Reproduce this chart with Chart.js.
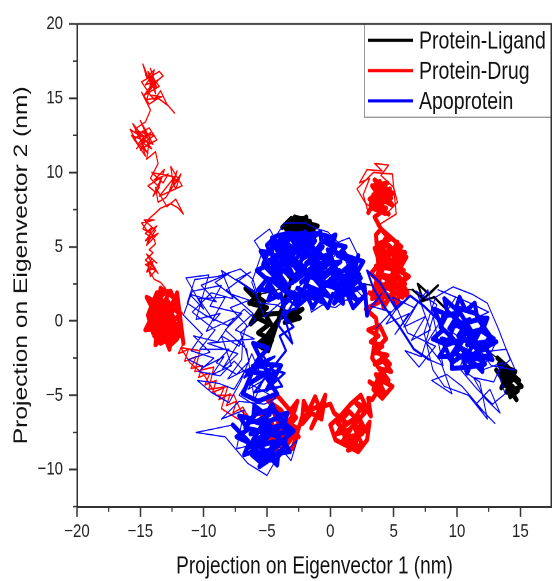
<!DOCTYPE html>
<html>
<head>
<meta charset="utf-8">
<script src="https://cdn.jsdelivr.net/npm/chart.js@4.4.1/dist/chart.umd.min.js"></script>
<style>
  html, body { margin: 0; padding: 0; background: #fff; }
  /* the source figure is stretched vertically: draw at 552x461 and show at 552x581 */
  #pca { display: block; width: 552px; height: 581px; }
</style>
</head>
<body>
<canvas id="pca" width="552" height="461" style="width:552px;height:581px"></canvas>
<script>
// ---- Protein-Drug (red) trajectory ----
var drugTop = [[-14.2,16.0],[-14.8,17.3],[-14.5,16.4],[-13.9,16.9],[-14.3,15.6],[-13.6,16.2],[-14.6,15.9],[-14.0,16.6],[-13.8,15.3],[-14.4,16.8],[-13.5,15.8],[-14.7,15.2],[-14.1,15.9],[-13.2,16.5],[-13.5,16.8],[-14.9,16.1],[-14.2,15.2],[-13.3,15.1],[-14.5,14.9],[-14.0,16.3],[-14.6,16.6],[-13.7,15.7],[-14.2,17.0],[-13.8,16.0],[-14.4,15.4],[-13.9,14.9],[-13.4,15.5],[-12.9,14.6],[-12.3,14.0],[-12.8,14.5],[-13.6,15.0],[-14.3,14.6],[-14.9,15.4],[-14.2,14.2]];
var drugC2 = [[-14.6,13.4],[-15.3,13.0],[-14.9,12.4],[-15.8,12.9],[-15.2,11.9],[-14.5,12.6],[-15.0,11.5],[-14.2,12.0],[-14.8,12.8],[-15.5,12.2],[-14.4,11.3],[-14.9,11.9],[-13.9,12.5],[-15.4,12.8],[-14.4,12.3],[-15.0,13.5],[-14.0,11.9],[-15.7,12.5],[-14.6,11.1],[-15.1,12.6],[-14.3,13.0],[-13.7,12.2],[-14.7,11.7],[-15.6,13.3],[-14.1,11.6],[-15.0,12.1],[-14.6,12.3],[-15.3,11.6],[-14.2,12.7],[-14.5,10.9],[-13.8,11.4]];
var drugC3 = [[-13.6,10.6],[-14.2,9.6],[-13.5,9.0],[-14.0,8.4],[-13.3,9.7],[-14.4,9.1],[-13.7,8.6],[-13.1,10.2],[-13.9,9.5],[-12.8,9.9],[-13.2,9.3],[-14.1,10.0],[-12.3,9.7],[-13.5,8.4],[-11.7,9.1],[-12.6,10.4],[-12.4,9.2],[-12.1,10.1],[-12.7,8.8],[-11.9,9.6],[-12.5,9.4],[-12.2,8.9],[-11.8,9.9],[-13.0,8.3],[-13.6,8.0],[-13.8,9.0],[-12.9,7.7],[-12.2,8.2],[-11.6,7.2],[-12.0,7.6],[-12.6,7.9],[-13.4,7.6],[-13.9,7.2]];
var drugC4 = [[-14.3,6.9],[-14.8,6.2],[-14.0,5.8],[-14.6,5.4],[-13.7,6.4],[-14.4,6.0],[-14.9,6.6],[-13.9,6.8],[-14.7,6.8],[-13.8,6.1],[-14.4,5.3],[-14.2,5.6],[-13.6,5.9],[-14.5,5.1],[-14.1,6.3],[-14.6,5.9],[-13.9,5.5],[-13.8,5.2],[-14.3,4.8]];
var drugC5 = [[-14.0,4.6],[-14.6,4.1],[-13.9,3.6],[-14.5,3.3],[-14.1,4.2],[-13.7,3.9],[-14.5,4.5],[-13.6,3.2],[-14.3,4.0],[-14.4,3.7],[-14.2,3.0],[-13.8,3.4],[-14.6,3.8],[-14.0,4.0],[-14.3,3.4],[-13.9,2.8],[-13.4,2.6],[-13.0,2.2],[-13.5,1.9],[-12.8,1.6]];
var drugBlob = [[-13.2,1.8],[-13.9,1.2],[-12.7,1.0],[-14.1,0.6],[-13.0,0.2],[-14.3,-0.1],[-12.5,0.6],[-13.6,1.5],[-12.9,-0.4],[-13.8,-0.6],[-12.3,0.1],[-13.4,0.9],[-14.0,-0.3],[-12.8,1.3],[-13.5,-0.9],[-12.4,-0.2],[-13.1,0.7],[-14.2,0.3],[-12.6,-0.7],[-13.3,-1.3],[-12.2,-0.5],[-13.7,0.1],[-12.9,1.6],[-13.9,-1.0],[-12.7,-1.1],[-13.2,-0.2],[-14.1,1.0],[-12.4,1.1],[-13.6,-0.4],[-12.8,0.4],[-13.4,-0.8],[-12.1,-0.9],[-13.0,1.1],[-13.8,0.4],[-12.5,-1.4],[-13.3,0.3],[-12.0,-0.3],[-12.6,-1.6],[-12.1,-1.2]];
var drugBlobB = [[-12.3,-1.0],[-13.4,-1.5],[-14.0,-0.8],[-14.4,0.4],[-13.7,1.9],[-12.6,2.0],[-12.0,0.7],[-11.9,-0.6],[-12.8,-1.3],[-13.9,-0.2],[-13.3,1.4],[-12.4,0.3],[-13.6,0.6],[-12.7,-0.2],[-13.1,-0.9],[-14.2,1.3],[-12.9,0.8],[-13.5,0.2],[-12.2,1.5]];
var drugBlobC = [[-13.4,2.2],[-13.6,1.2],[-14.5,1.6],[-13.9,0.6],[-14.6,-0.6],[-13.7,-0.5],[-13.8,-1.6],[-13.1,-1.0],[-12.7,-1.9],[-12.5,-0.9],[-11.9,-1.0],[-12.5,-0.1],[-11.8,0.5],[-12.6,0.9],[-12.1,1.9]];
var drugDown = [[-11.6,-1.5],[-12.0,-2.2],[-11.2,-1.9],[-11.5,-2.7],[-10.6,-2.4],[-11.0,-3.2],[-10.1,-3.0],[-10.4,-3.8],[-9.5,-3.5],[-9.9,-4.3],[-9.0,-4.0],[-9.3,-4.8],[-8.4,-4.5],[-8.8,-5.3],[-7.9,-4.9],[-8.2,-5.7],[-7.4,-5.4],[-7.7,-6.2],[-6.9,-5.8],[-6.5,-6.4]];
var drugDownB = [[-7.3,-6.6],[-8.6,-5.9],[-8.1,-4.4],[-9.6,-4.6],[-9.2,-3.1],[-10.7,-3.4],[-10.3,-2.0],[-11.8,-1.8],[-11.1,-2.8],[-10.0,-3.6],[-9.0,-5.0],[-7.6,-5.0],[-7.1,-6.0],[-6.2,-6.7]];
var drugBL = [[-5.6,-6.2],[-4.6,-6.9],[-5.3,-7.5],[-4.1,-7.0],[-4.8,-8.1],[-3.7,-7.6],[-4.4,-6.3],[-3.3,-6.8],[-4.0,-8.4],[-3.1,-7.9],[-4.7,-7.2],[-3.6,-8.6],[-2.9,-7.3],[-3.9,-6.0],[-4.9,-5.4],[-4.2,-5.0],[-3.4,-5.8],[-2.7,-6.5],[-3.2,-7.0],[-2.5,-7.8],[-3.5,-7.2],[-2.8,-6.0]];
var drugBLB = [[-2.6,-5.4],[-3.5,-6.4],[-4.5,-5.8],[-5.4,-6.8],[-4.3,-7.6],[-3.3,-8.2],[-2.6,-7.2],[-3.8,-6.8],[-4.9,-7.8],[-4.1,-8.8],[-3.0,-8.6],[-2.2,-6.4]];
var drugMid = [[-2.1,-5.4],[-1.6,-6.3],[-2.2,-6.9],[-1.2,-5.1],[-0.8,-6.0],[-1.5,-7.2],[-0.4,-5.0],[-0.7,-6.6],[-1.9,-6.0],[0.0,-5.6]];
var drugLow = [[0.3,-6.2],[1.2,-6.8],[0.5,-7.6],[1.6,-7.3],[0.9,-8.2],[2.1,-7.8],[1.4,-8.7],[2.5,-8.3],[1.8,-7.0],[2.8,-7.4],[2.2,-6.4],[1.0,-7.1],[1.7,-8.0],[0.6,-6.9],[1.5,-6.1],[2.4,-6.9],[1.9,-8.6],[1.1,-7.7],[2.7,-6.2],[2.0,-5.5],[2.9,-5.9],[2.4,-5.0]];
var drugLowB = [[1.6,-5.6],[0.8,-6.4],[0.0,-7.0],[0.4,-8.0],[1.3,-8.4],[2.2,-8.8],[2.9,-8.0],[3.1,-6.8],[2.5,-7.6],[1.5,-7.8],[0.7,-7.3],[1.9,-6.6],[2.6,-5.6],[3.2,-6.4],[3.0,-5.2]];
var drugLoopUp = [[3.3,-5.3],[3.9,-4.5],[3.1,-4.1],[4.3,-4.9],[3.6,-3.6],[4.6,-4.0],[3.9,-3.2],[4.8,-3.4],[4.2,-2.7],[3.5,-2.9],[4.5,-2.3],[3.4,-2.1],[4.1,-1.7],[3.2,-1.4],[3.8,-1.0],[3.0,-0.6]];
var drugLoopUpB = [[3.9,-0.3],[4.4,-1.2],[3.6,-1.9],[4.7,-2.9],[3.8,-3.9],[4.9,-4.4],[4.1,-5.2],[3.4,-4.6],[4.0,-3.4],[3.3,-2.5],[3.7,-0.4]];
var drugUpper = [[3.6,0.2],[2.8,0.8],[3.9,1.3],[3.1,1.9],[4.4,1.6],[3.7,2.6],[5.0,2.1],[4.2,3.1],[5.4,2.8],[4.5,3.9],[5.8,3.4],[4.0,4.3],[5.2,4.6],[4.6,5.1],[5.7,4.2],[4.3,2.4],[5.9,2.5],[4.9,3.5],[3.6,3.7],[5.5,3.9],[4.1,2.0],[5.1,1.4],[4.6,2.9],[6.1,1.9],[5.3,3.1],[4.4,4.6],[3.8,5.2],[4.7,5.5],[4.0,6.2]];
var drugUpperB = [[5.6,5.0],[4.9,4.1],[6.0,3.0],[5.2,2.3],[4.3,1.1],[3.5,2.2],[4.6,2.2],[5.7,1.6],[5.0,2.8],[3.9,3.0],[4.8,4.8],[5.9,4.6],[5.3,3.6],[4.2,3.6],[3.7,4.7],[4.4,5.6]];
var drugUpperC = [[3.3,1.5],[4.0,1.9],[4.2,0.9],[4.7,1.6],[5.3,1.0],[5.4,1.9],[6.1,1.7],[5.5,2.5],[6.2,3.0],[5.4,3.4],[6.0,4.3],[5.2,4.2],[5.3,5.3],[4.8,4.5],[4.3,5.4],[4.1,4.5],[3.5,4.9],[3.9,3.9],[3.2,3.2],[3.9,2.6],[3.6,5.8],[4.0,6.2]];
var drugTopR = [[3.5,7.0],[4.4,7.6],[3.2,7.9],[4.8,8.3],[3.6,8.9],[4.5,9.3],[3.3,9.1],[4.1,8.1],[4.7,8.9],[3.8,8.0],[3.4,8.5],[4.9,7.8],[4.2,8.7],[3.9,9.4],[4.4,8.2],[3.7,7.5]];
var drugTopRB = [[4.6,7.2],[3.3,7.6],[4.0,7.9],[4.9,8.6],[3.5,9.5],[4.3,9.0],[3.1,8.2],[4.6,8.0],[3.9,8.7]];
var drugTopHalo = [[3.0,7.3],[2.6,8.5],[3.1,9.6],[2.3,9.3],[2.9,10.2],[4.1,10.1],[3.5,10.6],[4.6,10.5],[4.0,9.8],[5.0,9.0],[5.3,8.0],[4.3,7.1],[2.8,7.9],[2.1,8.9],[3.4,10.0],[4.9,9.9],[5.2,7.2],[3.7,6.4]];

// ---- Apoprotein (blue) trajectory ----
var apoMain = [[-4.5,5.0],[-3.2,5.6],[-4.0,4.4],[-2.6,5.2],[-3.5,4.0],[-1.9,5.7],[-2.8,4.6],[-1.2,5.4],[-2.2,4.2],[-0.6,5.0],[-1.6,4.0],[0.2,4.6],[-0.9,3.7],[0.8,4.0],[-0.3,3.3],[1.0,3.0],[-0.6,2.5],[0.5,2.2],[-1.3,2.9],[-0.2,1.8],[-1.9,2.4],[-0.9,1.6],[-2.6,2.2],[-1.6,1.5],[-3.3,2.0],[-2.4,1.4],[-4.0,2.3],[-3.0,1.6],[-4.7,2.8],[-3.7,2.6],[-4.9,3.6],[-3.9,3.2],[-4.6,4.2],[-3.3,3.6],[-4.2,5.3],[-2.9,3.0],[-2.0,3.6],[-3.0,4.2],[-1.6,3.0],[-2.3,2.6],[-1.0,3.5],[-1.8,4.6],[-0.4,4.2],[-1.3,4.9],[0.4,3.6],[-0.5,2.9],[-2.5,3.3],[-3.6,4.6],[-2.1,5.0],[-2.9,5.7],[-1.5,5.8],[-2.4,5.9],[-3.8,5.6],[-4.9,4.7],[-5.3,3.8],[-4.4,3.0],[-5.0,2.3],[-4.1,1.6]];
var apoMainB = [[-5.1,2.9],[-3.4,2.4],[-4.8,4.1],[-3.1,3.0],[-4.3,4.9],[-2.7,3.9],[-3.7,5.4],[-2.2,4.4],[-3.0,5.9],[-1.7,5.1],[-2.5,5.6],[-0.9,4.5],[-1.9,3.9],[-0.1,3.9],[-1.1,3.1],[0.7,3.4],[-0.4,2.4],[1.3,2.6],[0.1,1.6],[-1.4,2.1],[-0.7,1.3],[-2.2,1.9],[-1.3,3.7],[-2.8,2.7],[-2.0,4.9],[-3.5,3.4],[-2.4,5.4],[-4.0,3.9],[-3.2,4.8],[-4.6,3.3],[-3.8,2.1],[-2.6,2.9],[-1.5,4.3],[-0.6,5.4],[0.4,4.9],[-0.2,5.7],[-1.1,5.9],[-2.0,5.8],[-3.4,5.9],[-4.3,5.7],[-5.0,5.1],[-4.7,4.5],[-3.6,4.2],[-2.1,3.2],[-0.8,2.7],[0.9,2.0],[1.4,3.3]];
var apoMainC = [[1.8,4.0],[0.6,4.4],[1.2,5.0],[0.2,5.2],[0.4,5.8],[-0.7,5.3],[-0.8,6.0],[-1.7,5.4],[-2.0,6.0],[-2.9,5.3],[-3.3,5.9],[-3.9,5.1],[-4.6,5.6],[-4.6,4.6],[-5.5,4.7],[-4.9,3.8],[-5.8,3.4],[-5.0,2.8],[-5.7,2.1],[-4.6,2.1],[-4.9,1.4],[-3.9,1.8],[-3.7,1.1],[-2.9,1.7],[-2.6,1.0],[-1.8,1.6],[-1.4,0.9],[-0.8,1.7],[-0.2,0.9],[0.2,1.8],[1.0,1.2],[0.9,2.3],[1.8,2.2],[1.1,3.0],[1.9,3.3]];
var apoMainHalo = [[2.2,4.4],[1.5,5.6],[0.6,5.3],[-0.2,6.0],[-1.0,6.2],[-2.0,6.6],[-3.6,6.6],[-4.4,5.6],[-4.8,6.2],[-6.0,5.4],[-5.4,4.6],[-6.2,2.6],[-5.6,1.2],[-4.3,1.1],[-3.4,0.7],[-2.6,0.8],[-1.8,1.9],[-1.5,0.6],[-0.6,1.1],[0.4,0.9],[1.2,1.4],[2.6,1.6],[1.6,2.5],[2.4,3.2],[1.4,3.6],[0.9,4.8],[-5.2,0.3],[-5.9,1.8]];
var apoLeftB = [[-6.8,2.4],[-8.6,3.4],[-7.7,1.5],[-9.4,1.9],[-10.9,0.6],[-9.1,-0.6],[-10.3,-1.9],[-8.0,-1.9],[-9.0,-2.8],[-7.4,-3.6],[-6.4,-2.7],[-7.1,-0.8],[-5.9,0.1],[-6.8,0.8],[-8.1,-0.3],[-9.9,0.4],[-11.3,1.2],[-10.7,2.8],[-8.9,3.0],[-7.1,3.5],[-6.1,2.8],[-5.8,1.9]];
var apoLeft = [[-7.4,2.8],[-6.3,3.3],[-8.2,2.1],[-7.0,1.2],[-9.1,2.6],[-8.0,3.2],[-10.2,2.4],[-9.0,1.3],[-11.1,1.8],[-10.0,0.8],[-11.4,2.9],[-9.6,3.1],[-10.6,0.1],[-8.7,0.5],[-9.2,0.0],[-10.4,1.5],[-8.3,1.6],[-9.8,-0.7],[-7.6,0.2],[-8.9,-1.4],[-10.8,-1.0],[-9.5,-2.1],[-11.2,-2.6],[-10.0,-3.1],[-8.4,-2.4],[-9.3,-3.6],[-7.8,-3.0],[-8.6,-1.0],[-7.2,-1.7],[-6.6,-0.3],[-7.9,0.9],[-6.4,1.4],[-7.8,1.8],[-6.1,0.5],[-7.5,-0.6],[-6.0,-1.2],[-9.7,-1.5],[-7.3,-2.2],[-8.5,-3.2],[-6.9,-1.0],[-7.0,-2.6],[-8.1,-3.9],[-6.7,-3.3],[-7.6,-4.6],[-8.8,-4.2],[-10.5,-4.0],[-9.4,-4.8],[-8.0,-5.5],[-7.1,-4.1],[-6.2,-2.2],[-5.6,-3.4],[-6.5,-4.6],[-5.3,-4.0],[-6.0,-5.3]];
var apoLeftC = [[-6.6,-1.9],[-8.3,-0.6],[-7.0,0.5],[-9.5,1.0],[-8.6,2.4],[-10.9,2.0],[-11.6,0.4],[-10.1,-0.9],[-11.0,-2.0],[-9.2,-2.5],[-10.4,-3.4],[-8.7,-3.7],[-7.6,-2.7],[-6.3,-3.8],[-7.2,-5.0]];
var apoBottom = [[-4.8,-6.3],[-5.9,-6.8],[-4.4,-7.2],[-6.3,-7.6],[-3.8,-7.0],[-5.2,-7.8],[-6.4,-8.5],[-4.6,-8.2],[-3.6,-8.0],[-5.0,-9.0],[-3.9,-8.9],[-5.8,-9.2],[-4.3,-9.4],[-6.1,-8.0],[-5.3,-6.9],[-4.1,-6.5],[-3.5,-7.5],[-4.7,-7.6],[-5.6,-8.4],[-4.9,-6.0],[-6.0,-6.3],[-6.7,-7.2]];
var apoBottomB = [[-5.6,-7.4],[-4.0,-7.8],[-4.8,-8.7],[-6.2,-9.0],[-5.4,-9.6],[-3.7,-8.6],[-3.3,-7.2],[-4.3,-6.1],[-5.7,-6.1],[-6.5,-6.8],[-5.0,-6.7],[-4.5,-7.4],[-5.9,-8.0],[-4.9,-9.4]];
var apoBottomC = [[-5.6,-9.8],[-5.0,-9.0],[-4.2,-9.7],[-4.1,-8.9],[-3.2,-8.8],[-3.7,-8.0],[-2.9,-7.4],[-3.6,-6.9],[-3.4,-6.2],[-4.2,-6.4],[-4.6,-5.6],[-5.1,-6.3],[-6.0,-5.7],[-6.1,-6.6],[-7.2,-6.4],[-6.5,-7.3],[-7.4,-7.8],[-6.4,-8.2],[-6.8,-9.0],[-5.8,-8.7]];
var apoBottomOut = [[-7.7,-7.0],[-10.6,-7.5],[-8.3,-7.8],[-6.5,-9.6],[-5.0,-10.4],[-4.4,-9.5],[-2.6,-8.0],[-3.1,-9.4],[-4.5,-8.0],[-7.4,-8.6],[-6.8,-6.0],[-8.6,-6.6],[-7.2,-5.4],[-5.2,-5.6],[-4.3,-5.2]];
var apoUpB = [[-6.4,-4.2],[-5.2,-3.6],[-4.2,-4.9],[-5.7,-5.4],[-6.9,-4.9],[-5.8,-2.7],[-4.9,-1.8],[-6.1,-1.5],[-4.6,-4.1],[-3.9,-3.0],[-5.3,-2.9],[-6.6,-3.4],[-4.4,-3.6]];
var apoUp = [[-5.0,-4.6],[-3.6,-3.5],[-6.2,-3.0],[-4.4,-2.4],[-6.8,-3.8],[-5.4,-2.2],[-3.8,-4.4],[-6.0,-4.8],[-4.7,-3.3],[-3.5,-2.0],[-4.0,-1.0],[-2.9,-0.4],[-3.8,0.5],[-2.6,0.9],[-3.4,1.5],[-4.1,-0.3],[-3.0,-1.5],[-3.6,0.2],[-2.7,1.6]];
var apoBand = [[-0.5,2.3],[1.6,3.8],[0.3,1.2],[2.4,2.9],[1.1,4.6],[2.8,1.8],[1.8,0.9],[-0.2,4.8],[2.6,4.0],[1.3,2.1],[0.6,3.3],[2.1,1.4],[0.0,2.8],[1.9,3.0],[0.9,1.7],[2.7,2.4]];
var apoBridge = [[2.9,0.4],[4.1,1.9],[3.2,1.0],[4.8,0.6],[3.6,-0.5],[5.6,1.3],[4.4,-0.2],[6.2,0.5],[5.1,-0.9],[6.9,1.2],[5.8,-0.4],[7.5,0.3],[6.4,-1.3],[7.9,-0.6],[6.8,2.0],[8.4,1.1],[7.2,-2.4],[5.9,-2.0],[7.0,-3.1],[8.3,-1.7],[6.1,-0.8],[4.9,1.6],[6.6,0.9],[7.7,2.1],[8.9,-3.0]];
var apoBridgeB = [[7.8,-2.6],[6.6,-1.9],[5.4,-0.3],[4.3,0.9],[3.4,2.2],[2.9,3.4],[3.9,2.6],[5.2,0.8],[6.3,1.7],[7.4,1.0],[8.6,0.0]];
var apoRight = [[8.9,0.3],[10.2,0.6],[9.4,-0.5],[11.0,0.1],[10.1,-1.0],[11.8,-0.6],[10.8,-1.6],[12.3,-1.4],[11.3,-2.3],[12.5,-2.4],[10.6,-2.6],[11.6,-3.0],[9.9,-2.2],[10.5,-1.2],[9.2,-1.6],[9.8,-0.2],[11.3,-0.9],[10.0,0.9],[11.5,0.5],[12.1,-0.2],[11.0,-2.0],[9.6,-2.8],[8.8,-1.2],[9.9,-1.5]];
var apoRightB = [[11.2,-1.1],[12.0,-1.9],[12.6,-1.0],[11.7,0.1],[10.4,-0.2],[9.3,0.6],[8.7,-0.4],[9.6,-1.1],[10.9,-2.4],[11.9,-2.6],[10.3,-1.8],[9.4,-2.5],[10.8,-0.7],[12.2,-2.9],[11.0,-3.1]];
var apoRightC = [[9.6,-3.2],[9.6,-2.4],[8.6,-2.4],[9.2,-1.6],[8.1,-1.2],[8.9,-0.6],[8.2,0.8],[9.3,0.4],[9.0,1.5],[9.9,0.8],[10.2,1.6],[10.7,0.7],[11.4,1.2],[11.6,0.2],[12.4,0.2],[12.0,-0.7],[12.9,-1.2],[12.2,-1.7],[12.8,-2.6],[11.9,-2.4],[12.0,-3.4],[11.2,-2.7],[10.8,-3.5],[10.5,-2.6]];
var apoRightOut = [[13.1,-1.4],[12.0,-3.3],[13.6,-2.8],[12.9,-4.1],[11.3,-3.8],[12.2,-5.2],[13.4,-6.2],[12.6,-4.6],[11.5,-5.6],[13.0,-6.9],[12.1,-6.1],[10.4,-4.4],[9.2,-3.6],[8.0,-4.0],[9.6,-4.9],[8.7,-2.7],[7.6,-1.5],[9.9,1.6],[8.5,2.1],[10.8,1.3],[12.5,0.6],[9.4,-0.6],[11.7,-2.1],[13.9,-1.9],[14.6,-3.3],[12.7,-3.0],[11.1,-1.1]];
var apoRightOutB = [[10.2,-3.2],[11.6,-4.6],[12.8,-5.6],[13.8,-4.9],[13.2,-3.4],[14.2,-2.6],[13.3,-0.6],[12.4,1.2],[11.2,1.8],[9.7,2.3],[8.3,1.6],[7.4,-0.8],[8.1,-3.3],[9.0,-4.4],[10.9,-5.0],[12.4,-6.6],[11.8,-4.1],[10.6,-3.4]];

// ---- Protein-Ligand (black) trajectory ----
var ligTop = [[-2.4,6.4],[-3.2,6.0],[-1.6,6.7],[-2.8,7.0],[-1.3,6.0],[-3.4,6.5],[-2.0,6.1],[-2.6,6.8],[-1.8,6.3],[-3.5,6.2],[-2.1,6.6],[-1.2,6.3],[-2.9,6.6],[-2.5,6.0],[-1.9,7.0],[-3.0,6.3],[-2.2,6.9],[-3.8,6.3],[-3.1,6.9],[-1.0,6.4],[-1.5,6.4]];
var ligPath1 = [[-2.5,4.5],[-3.8,3.4],[-2.9,2.5],[-4.5,2.0]];
var ligLeft = [[-5.6,1.8],[-6.4,1.2],[-5.0,0.9],[-6.0,0.3],[-4.8,-0.2],[-5.7,-0.8],[-4.6,-1.3],[-5.4,-1.8],[-4.4,-0.6],[-5.9,1.5],[-6.7,2.2],[-5.2,1.3],[-6.3,-0.2],[-5.5,0.4],[-4.3,0.5],[-3.2,0.6],[-2.4,0.2],[-3.6,-0.1],[-2.2,0.8],[-4.0,0.2],[-5.1,-1.1],[-5.8,-1.6],[-4.9,-2.0]];
var ligPath2 = [[-3.0,3.0],[-0.5,3.6],[2.0,2.6],[4.5,2.2]];
var ligMid = [[6.5,2.1],[7.3,1.5],[6.9,2.5],[7.8,1.8],[8.5,2.4],[7.1,1.3],[8.2,1.6]];
var ligPath3 = [[9.5,0.5],[11.0,-1.2],[12.4,-2.0]];
var ligFar = [[13.2,-2.5],[14.0,-3.1],[13.4,-3.6],[14.5,-3.9],[13.7,-4.3],[14.8,-4.7],[14.2,-5.1],[13.6,-3.0],[14.6,-3.4],[13.9,-4.8],[15.1,-4.4],[14.3,-3.7],[13.5,-4.5],[14.1,-3.4],[14.9,-4.0],[13.3,-2.9],[14.5,-5.0],[13.1,-3.3],[14.7,-5.3],[13.8,-4.0],[14.4,-4.4]];

// axis ticks
var xTicksStep = 5;
var yTicksStep = 5;

// line weights: crowded parts of a trajectory look solid in the figure
var weight = { dense: 4.0, mid: 2.0, light: 1.2, thin: 1.0 };

function build(parts) {
  var pts = [], widths = [];
  parts.forEach(function(p) {
    p[0].forEach(function(v) {
      pts.push({x: v[0], y: v[1]});
      widths.push(weight[p[1]]);
    });
  });
  return {pts: pts, widths: widths};
}

var ligand = build([[ligTop, 'dense'], [ligPath1, 'thin'], [ligLeft, 'dense'], [ligPath2, 'thin'], [ligMid, 'mid'], [ligPath3, 'thin'], [ligFar, 'dense']]);
var drug = build([[drugTop, 'light'], [drugC2, 'light'], [drugC3, 'light'], [drugC4, 'light'], [drugC5, 'light'], [drugBlob, 'dense'], [drugBlobB, 'dense'], [drugBlobC, 'dense'], [drugDown, 'light'], [drugDownB, 'light'], [drugBL, 'dense'], [drugBLB, 'dense'], [drugMid, 'dense'], [drugLow, 'dense'], [drugLowB, 'dense'], [drugLoopUp, 'dense'], [drugLoopUpB, 'dense'], [drugUpper, 'dense'], [drugUpperB, 'dense'], [drugUpperC, 'dense'], [drugTopR, 'dense'], [drugTopRB, 'dense'], [drugTopHalo, 'light']]);
var apo = build([[apoMain, 'dense'], [apoMainB, 'dense'], [apoMainC, 'dense'], [apoMainHalo, 'thin'], [apoLeftB, 'thin'], [apoLeft, 'thin'], [apoLeftC, 'thin'], [apoBottom, 'dense'], [apoBottomB, 'dense'], [apoBottomC, 'dense'], [apoBottomOut, 'thin'], [apoUpB, 'dense'], [apoUp, 'mid'], [apoBand, 'dense'], [apoBridge, 'thin'], [apoBridgeB, 'mid'], [apoRight, 'dense'], [apoRightB, 'dense'], [apoRightC, 'dense'], [apoRightOut, 'thin'], [apoRightOutB, 'thin']]);

function seg(series) {
  return { borderWidth: function(c) { return series.widths[c.p0DataIndex]; } };
}

function minus(v) { return String(v).replace('-', '\u2212'); }

var FONT = '"Liberation Sans", Arial, sans-serif';

var decor = {
  id: 'decor',
  afterDraw: function(chart) {
    var ctx = chart.ctx, a = chart.chartArea;
    var xs = chart.scales.x, ys = chart.scales.y;
    ctx.save();
    // legend box
    var lx = 364, lb = 93;
    ctx.fillStyle = '#fff';
    ctx.fillRect(lx, a.top, a.right - lx, lb - a.top);
    ctx.strokeStyle = '#999';
    ctx.lineWidth = 1;
    ctx.strokeRect(lx + 0.5, a.top, a.right - lx, lb - a.top);
    ctx.font = '19.5px ' + FONT;
    ctx.textBaseline = 'middle';
    chart.data.datasets.forEach(function(ds, i) {
      var y = 32 + i * 24;
      ctx.strokeStyle = ds.borderColor;
      ctx.lineWidth = 2.5;
      ctx.beginPath();
      ctx.moveTo(368, y);
      ctx.lineTo(413, y);
      ctx.stroke();
      ctx.fillStyle = '#111';
      ctx.fillText(ds.label, 419, y + 1);
    });
    // top and right frame
    ctx.strokeStyle = '#333';
    ctx.lineWidth = 1.5;
    ctx.beginPath();
    ctx.moveTo(a.left, a.top);
    ctx.lineTo(a.right - 0.75, a.top);
    ctx.lineTo(a.right - 0.75, a.bottom);
    ctx.stroke();
    // minor ticks halfway between the labelled ones
    ctx.lineWidth = 1.2;
    ctx.beginPath();
    xs.ticks.forEach(function(t) {
      var px = xs.getPixelForValue(t.value + xTicksStep / 2);
      if (px < a.right - 1) { ctx.moveTo(px, a.bottom); ctx.lineTo(px, a.bottom + 4); }
    });
    ys.ticks.forEach(function(t) {
      [t.value - yTicksStep / 2, t.value + yTicksStep / 2].forEach(function(v) {
        var py = ys.getPixelForValue(v);
        if (py >= a.top && py <= a.bottom) { ctx.moveTo(a.left, py); ctx.lineTo(a.left - 4, py); }
      });
    });
    ctx.stroke();
    ctx.restore();
  }
};

function line(label, series, color, order) {
  return {
    label: label, data: series.pts, borderColor: color, showLine: true,
    pointRadius: 0, borderWidth: 1, borderJoinStyle: 'round', borderCapStyle: 'round',
    order: order, segment: seg(series)
  };
}

new Chart(document.getElementById('pca'), {
  type: 'scatter',
  data: {
    datasets: [
      line('Protein-Ligand', ligand, '#000000', 3),
      line('Protein-Drug', drug, '#ff0000', 2),
      line('Apoprotein', apo, '#0000ff', 1)
    ]
  },
  options: {
    responsive: false,
    animation: false,
    devicePixelRatio: 2,
    layout: { padding: { top: 19, left: 0, right: 0, bottom: 0 } },
    plugins: { legend: { display: false }, tooltip: { enabled: false } },
    scales: {
      x: {
        type: 'linear', position: 'bottom', min: -20, max: 17.5,
        afterFit: function(s) { s.height = 59; },
        ticks: { stepSize: xTicksStep, includeBounds: false, padding: 3, color: '#222', font: { family: FONT, size: 15 }, callback: minus },
        grid: { drawOnChartArea: false, tickLength: 8, tickWidth: 1.5, tickColor: '#333' },
        border: { color: '#333', width: 1.5 },
        title: { display: true, text: 'Projection on Eigenvector 1 (nm)', color: '#111', font: { family: FONT, size: 19 }, padding: { top: 0, bottom: 0 } }
      },
      y: {
        type: 'linear', min: -12.5, max: 20,
        afterFit: function(s) { s.width = 77; },
        ticks: { stepSize: yTicksStep, includeBounds: false, padding: 6, color: '#222', font: { family: FONT, size: 15 }, callback: minus },
        grid: { drawOnChartArea: false, tickLength: 8, tickWidth: 1.5, tickColor: '#333' },
        border: { color: '#333', width: 1.5 },
        title: { display: true, text: 'Projection on Eigenvector 2 (nm)', color: '#111', font: { family: FONT, size: 19.5 }, padding: { top: 10, bottom: 0 } }
      }
    }
  },
  plugins: [decor]
});
</script>
</body>
</html>
